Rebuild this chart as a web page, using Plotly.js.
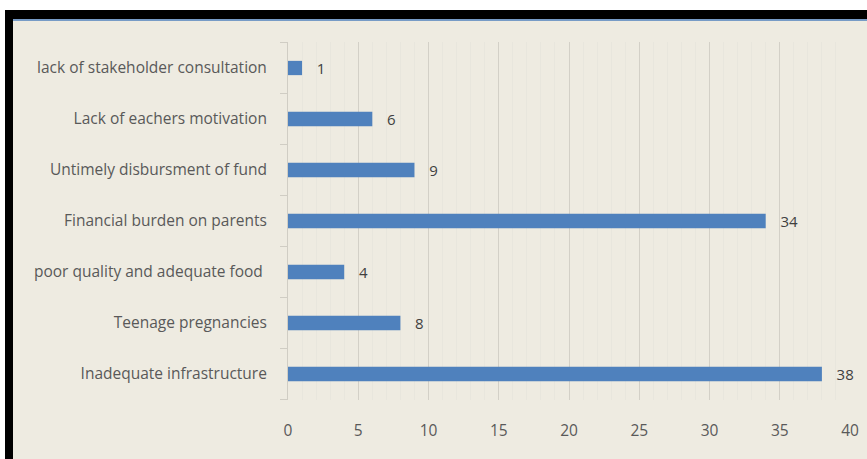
<!DOCTYPE html>
<html><head><meta charset="utf-8">
<script src="https://cdn.plot.ly/plotly-3.0.1.min.js"></script>
<style>html,body{margin:0;padding:0;background:#fff;}#chart{width:867px;height:459px;}</style>
</head><body><div id="chart"></div>
<script>
const categories = [
  "Inadequate infrastructure",
  "Teenage pregnancies",
  "poor quality and adequate food ",
  "Financial burden on parents",
  "Untimely disbursment of fund",
  "Lack of eachers motivation",
  "lack of stakeholder consultation"
];
const values = [38, 8, 4, 34, 9, 6, 1];
const xTicks = [0, 5, 10, 15, 20, 25, 30, 35, 40];

const L = 288, R = 17, T = 42, B = 59, W = 867, H = 459;
const pw = W - L - R, ph = H - T - B;
const px = v => (v - L) / pw;
const py = v => 1 - (v - T) / ph;
const FONT = '"Open Sans", "DejaVu Sans", sans-serif';

const trace = {
  type: 'bar', orientation: 'h',
  y: categories, x: values,
  marker: {color: '#4F81BD'},
  text: values.map(v => '   ' + v), textposition: 'outside',
  constraintext: 'none',
  textfont: {family: FONT, size: 15, color: '#404040'},
  cliponaxis: false, hoverinfo: 'none'
};

const layout = {
  width: W, height: H,
  margin: {l: L, r: R, t: T, b: B, pad: 0},
  paper_bgcolor: '#EEEBE1', plot_bgcolor: '#EEEBE1',
  bargap: 0.72,
  showlegend: false,
  font: {family: FONT, size: 15.5, color: '#595959'},
  xaxis: {
    range: [0, 40], tickvals: xTicks, ticktext: xTicks.map(String),
    showgrid: true, gridcolor: '#D3D0C7', gridwidth: 1,
    minor: {dtick: 1, showgrid: true, gridcolor: '#E8E6DD', gridwidth: 1},
    zeroline: false, showline: false, ticks: '',
    ticklabelstandoff: 19,
    tickfont: {size: 15.5, color: '#595959'}, fixedrange: true
  },
  yaxis: {
    showline: true, linecolor: '#D0CDC4', linewidth: 1,
    ticks: 'outside', ticklen: 0, showgrid: false, zeroline: false,
    ticklabelstandoff: 17,
    tickfont: {size: 15.5, color: '#595959'}, fixedrange: true
  },
  shapes: [
    {type: 'rect', xref: 'paper', yref: 'paper', x0: px(0), x1: px(W), y0: py(0), y1: py(10), fillcolor: '#FFFFFF', line: {width: 0}, layer: 'above'},
    {type: 'rect', xref: 'paper', yref: 'paper', x0: px(0), x1: px(5), y0: py(0), y1: py(H), fillcolor: '#FFFFFF', line: {width: 0}, layer: 'above'},
    {type: 'rect', xref: 'paper', yref: 'paper', x0: px(5), x1: px(W), y0: py(10), y1: py(19), fillcolor: '#000000', line: {width: 0}, layer: 'above'},
    {type: 'rect', xref: 'paper', yref: 'paper', x0: px(5), x1: px(13), y0: py(10), y1: py(H), fillcolor: '#000000', line: {width: 0}, layer: 'above'},
    {type: 'line', xref: 'paper', yref: 'paper', x0: px(13), x1: px(W), y0: py(20), y1: py(20), line: {color: '#4F81BD', width: 1.5}, layer: 'above'}
  ].concat(
    categories.map((c, i) => ({type: 'line', xref: 'paper', yref: 'y', x0: px(280), x1: px(288), y0: i - 0.5, y1: i - 0.5, line: {color: '#D0CDC4', width: 1}}))
  ).concat([{type: 'line', xref: 'paper', yref: 'y', x0: px(280), x1: px(288), y0: categories.length - 0.5, y1: categories.length - 0.5, line: {color: '#D0CDC4', width: 1}}])
};

Plotly.newPlot('chart', [trace], layout, {displayModeBar: false, staticPlot: true});
</script></body></html>
